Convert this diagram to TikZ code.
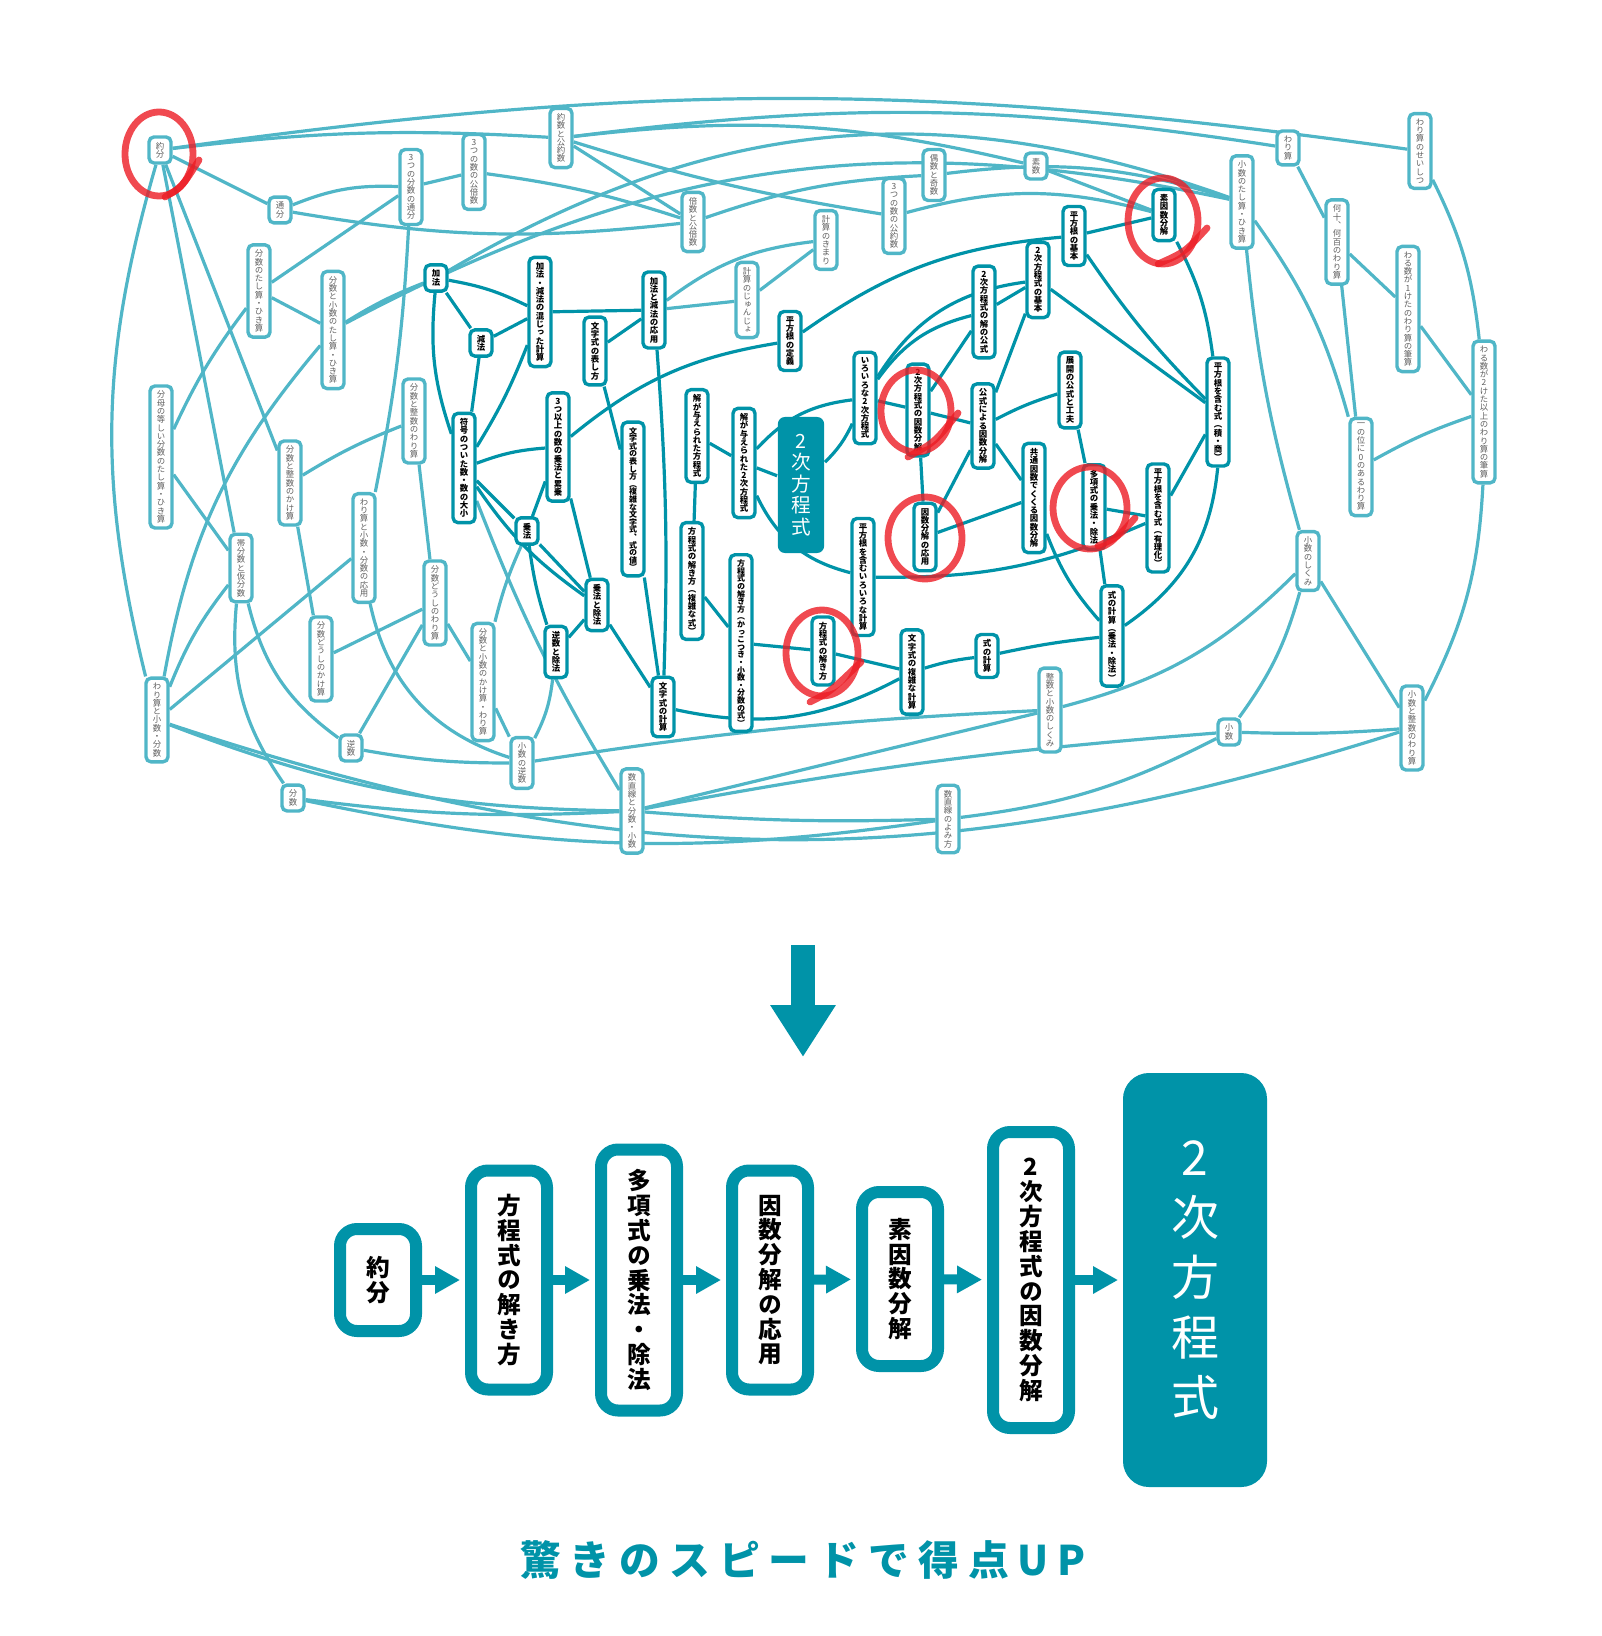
\documentclass[tikz,border=0pt]{standalone}
\usepackage{fontspec}
\setmainfont{Noto Sans CJK JP}
\newfontfamily\jpv[RawFeature=+vert]{Noto Sans CJK JP}
\usetikzlibrary{arrows.meta,backgrounds}
\definecolor{dteal}{RGB}{0,147,168}
\definecolor{lteal}{RGB}{80,182,199}
\definecolor{lgrey}{RGB}{95,95,95}
\definecolor{redpen}{RGB}{236,28,36}

% stack the characters of a label one under the other
\makeatletter
\def\vt@stop{\vt@stop}
\newcommand\vtxt[1]{\vbox{\lineskiplimit=-1000pt\vt@loop#1\vt@stop}}
\def\vt@loop#1{\ifx#1\vt@stop\else\hbox to 1em{\hss#1\hss}\expandafter\vt@loop\fi}
\makeatother

\begin{document}
\begin{tikzpicture}[x=0.25pt, y=-0.25pt,
    lbox/.style={draw=lteal, line width=0.85pt, rounded corners=1.25pt, fill=white, inner xsep=0.5pt, inner ysep=1.25pt, minimum width=5.5pt, text=lgrey, font=\jpv\fontsize{2.1}{2.075}\selectfont},
    dbox/.style={lbox, draw=dteal, text=black, font=\jpv\bfseries\fontsize{2.1}{2.075}\selectfont},
    tight/.style={font=\jpv\bfseries\fontsize{2}{1.9}\selectfont},
    mainbox/.style={fill=dteal, rounded corners=1.75pt, minimum width=11.5pt, minimum height=34pt, text=white, font=\jpv\fontsize{4.9}{5.4}\selectfont},
    lk/.style={draw=lteal, line width=0.8pt},
    dk/.style={draw=dteal, line width=0.8pt},
    fbox/.style={draw=dteal, line width=3pt, rounded corners=4.25pt, fill=white, minimum width=19pt, inner sep=0pt, text=black, font=\jpv\bfseries\fontsize{5.9}{6.2}\selectfont},
    goalbox/.style={fbox, fill=dteal, rounded corners=5pt, minimum width=33pt, minimum height=100.5pt, text=white, font=\jpv\fontsize{12}{15}\selectfont},
    farrow/.style={draw=dteal, line width=2.5pt, -{Triangle[length=6.25pt,width=6.5pt]}, shorten >=1.25pt},
    redmark/.style={draw=redpen, line width=1.7pt, line cap=round, opacity=0.8}]
\useasboundingbox (0,0) rectangle (1602,1636);

% light topics
\node[lbox] (yakubun) at (160,150) {\vtxt{約分}};
\node[lbox] (tsubun) at (280,210) {\vtxt{通分}};
\node[lbox] (sanbuntsu) at (411,187) {\vtxt{3つの分数の通分}};
\node[lbox] (sankobai) at (474,172) {\vtxt{3つの数の公倍数}};
\node[lbox] (yakusu) at (561,138) {\vtxt{約数と公約数}};
\node[lbox] (baisu) at (693,222) {\vtxt{倍数と公倍数}};
\node[lbox] (gusu) at (934,175) {\vtxt{偶数と奇数}};
\node[lbox] (sankoyaku) at (894,216) {\vtxt{3つの数の公約数}};
\node[lbox] (sosu) at (1036,166) {\vtxt{素数}};
\node[lbox] (keikimari) at (826,240) {\vtxt{計算のきまり}};
\node[lbox] (keijun) at (747,300) {\vtxt{計算のじゅんじょ}};
\node[lbox] (bunta) at (259,291) {\vtxt{分数のたし算・ひき算}};
\node[lbox] (bunshota) at (333,330) {\vtxt{分数と小数のたし算・ひき算}};
\node[lbox] (bunbo) at (161,457) {\vtxt{分母の等しい分数のたし算・ひき算}};
\node[lbox] (bunseiwari) at (414,421) {\vtxt{分数と整数のわり算}};
\node[lbox] (bunseikake) at (290,483) {\vtxt{分数と整数のかけ算}};
\node[lbox] (taibun) at (241,568) {\vtxt{帯分数と仮分数}};
\node[lbox] (warioyo) at (364,548) {\vtxt{わり算と小数・分数の応用}};
\node[lbox] (bundowari) at (435,603) {\vtxt{分数どうしのわり算}};
\node[lbox] (bundokake) at (321,659) {\vtxt{分数どうしのかけ算}};
\node[lbox] (warishobun) at (157,720) {\vtxt{わり算と小数・分数}};
\node[lbox] (gyakusu) at (351,748) {\vtxt{逆数}};
\node[lbox] (bunsu) at (293,798) {\vtxt{分数}};
\node[lbox] (bunshokake) at (483,682) {\vtxt{分数と小数のかけ算・わり算}};
\node[lbox] (shogyaku) at (522,763) {\vtxt{小数の逆数}};
\node[lbox] (suchokubun) at (632,811) {\vtxt{数直線と分数・小数}};
\node[lbox] (suchokuyomi) at (948,819) {\vtxt{数直線のよみ方}};
\node[lbox] (seishoshikumi) at (1050,710) {\vtxt{整数と小数のしくみ}};
\node[lbox] (shosu) at (1229,732) {\vtxt{小数}};
\node[lbox] (shoseiwari) at (1412,728) {\vtxt{小数と整数のわり算}};
\node[lbox] (shoshikumi) at (1308,561) {\vtxt{小数のしくみ}};
\node[lbox] (ichinokurai) at (1361,467) {\vtxt{一の位に0のあるわり算}};
\node[lbox] (warusu1) at (1408,309) {\vtxt{わる数が1けたのわり算の筆算}};
\node[lbox] (warusu2) at (1484,412) {\vtxt{わる数が2けた以上のわり算の筆算}};
\node[lbox] (nanju) at (1337,242) {\vtxt{何十、何百のわり算}};
\node[lbox] (warizan) at (1288,148) {\vtxt{わり算}};
\node[lbox] (warisei) at (1420,151) {\vtxt{わり算のせいしつ}};
\node[lbox] (shota) at (1242,202) {\vtxt{小数のたし算・ひき算}};

% dark topics
\node[dbox] (kaho) at (436,278) {\vtxt{加法}};
\node[dbox] (genpo) at (481,343) {\vtxt{減法}};
\node[dbox] (kagenmaji) at (540,312) {\vtxt{加法・減法の混じった計算}};
\node[dbox] (fugo) at (464,468) {\vtxt{符号のついた数・数の大小}};
\node[dbox] (kagenoyo) at (654,310) {\vtxt{加法と減法の応用}};
\node[dbox] (mojiarawa) at (595,351) {\vtxt{文字式の表し方}};
\node[dbox, tight] (mojifuku) at (633,499) {\vtxt{文字式の表し方（複雑な文字式、式の値）}};
\node[dbox] (sanijo) at (558,447) {\vtxt{3つ以上の数の乗法と累乗}};
\node[dbox] (joho) at (527,531) {\vtxt{乗法}};
\node[dbox] (johojoho) at (597,605) {\vtxt{乗法と除法}};
\node[dbox] (gyakujo) at (556,652) {\vtxt{逆数と除法}};
\node[dbox] (mojikei) at (663,707) {\vtxt{文字式の計算}};
\node[dbox] (kaihoteishiki) at (697,436) {\vtxt{解が与えられた方程式}};
\node[dbox] (kai2ji) at (744,463) {\vtxt{解が与えられた2次方程式}};
\node[dbox] (hokifuku) at (692,581) {\vtxt{方程式の解き方（複雑な式）}};
\node[dbox, tight] (hokikakko) at (741,643) {\vtxt{方程式の解き方（かっこつき・小数・分数の式）}};
\node[dbox] (hoki) at (823,651) {\vtxt{方程式の解き方}};
\node[dbox] (heiiroiro) at (863,577) {\vtxt{平方根を含むいろいろな計算}};
\node[dbox] (mojifukukei) at (912,672) {\vtxt{文字式の複雑な計算}};
\node[dbox] (shikikei) at (987,656) {\vtxt{式の計算}};
\node[dbox] (shikijojo) at (1112,636) {\vtxt{式の計算（乗法・除法）}};
\node[dbox] (takoshiki) at (1094,507) {\vtxt{多項式の乗法・除法}};
\node[dbox] (yuri) at (1158,518) {\vtxt{平方根を含む式（有理化）}};
\node[dbox] (sekisho) at (1218,412) {\vtxt{平方根を含む式（積・商）}};
\node[dbox] (kyotsu) at (1034,498) {\vtxt{共通因数でくくる因数分解}};
\node[dbox] (inoyo) at (925,537) {\vtxt{因数分解の応用}};
\node[dbox] (koshiki) at (983,426) {\vtxt{公式による因数分解}};
\node[dbox] (tenkai) at (1070,390) {\vtxt{展開の公式と工夫}};
\node[dbox] (niinsu) at (918,410) {\vtxt{2次方程式の因数分解}};
\node[dbox] (iroiro) at (865,398) {\vtxt{いろいろな2次方程式}};
\node[dbox] (kainokoshiki) at (984,312) {\vtxt{2次方程式の解の公式}};
\node[dbox] (nikihon) at (1038,280) {\vtxt{2次方程式の基本}};
\node[dbox] (heikihon) at (1074,236) {\vtxt{平方根の基本}};
\node[dbox] (heitei) at (790,341) {\vtxt{平方根の定義}};
\node[dbox] (soinsu) at (1164,215) {\vtxt{素因数分解}};
\node[mainbox] (main) at (801,485) {\vtxt{2次方程式}};

% links
\begin{scope}[on background layer]
\foreach \a/\b/\c in {yakubun/warisei/8, yakubun/yakusu/5, yakubun/tsubun/0, yakubun/warishobun/-15,
    yakubun/taibun/0, yakubun/bunseikake/0, tsubun/sanbuntsu/12, sanbuntsu/sankobai/0, tsubun/baisu/-8,
    sankobai/baisu/5, sanbuntsu/bunta/0, sanbuntsu/warioyo/4, bunta/bunshota/0, bunta/bunbo/-6,
    bunshota/kaho/5, bunshota/shota/20, bunshota/warishobun/-15, kaho/shota/25, gusu/shota/12,
    yakusu/warizan/8, yakusu/baisu/0, yakusu/sankoyaku/-4, yakusu/sosu/10, sosu/soinsu/0,
    sankoyaku/soinsu/15, baisu/gusu/8, keijun/keikimari/0, kagenoyo/keijun/0, kagenoyo/keikimari/15,
    bunseiwari/bunseikake/-5, bunseiwari/bundowari/0, bunbo/taibun/0, taibun/warishobun/-8,
    taibun/bunsu/-20, taibun/gyakusu/-20, bunseikake/bundokake/0, warioyo/warishobun/0,
    warioyo/shogyaku/-30, bundowari/bundokake/0, bundowari/gyakusu/0, bundowari/bunshokake/0,
    fugo/suchokubun/-5, bunshokake/joho/5, bunshokake/shogyaku/0, shogyaku/gyakusu/5,
    shogyaku/gyakujo/-10, shogyaku/seishoshikumi/3, warishobun/suchokubun/-10,
    warishobun/shoseiwari/-18, bunsu/suchokubun/-5, bunsu/suchokuyomi/-10, suchokubun/suchokuyomi/-3,
    suchokubun/seishoshikumi/0, suchokubun/shosu/3, suchokuyomi/shosu/-10, shosu/shoshikumi/-10,
    shosu/shoseiwari/-3, shoshikumi/shoseiwari/0, shoshikumi/seishoshikumi/15, shota/shoshikumi/-5,
    shota/ichinokurai/10, nanju/ichinokurai/0, warizan/nanju/0, nanju/warusu1/0, warusu1/warusu2/0,
    ichinokurai/warusu2/5, warisei/warusu2/10, warusu2/shoseiwari/12}
  \draw[lk] (\a) to[bend left=\c] (\b);
\foreach \a/\b/\c in {kaho/genpo/0, kaho/kagenmaji/8, kaho/fugo/-12, genpo/kagenmaji/0, genpo/fugo/0,
    kagenmaji/fugo/5, kagenmaji/kagenoyo/0, kagenoyo/mojiarawa/0, kagenoyo/mojikei/3,
    mojiarawa/mojifuku/0, fugo/sanijo/8, fugo/joho/0, fugo/johojoho/-10, sanijo/joho/0,
    sanijo/heitei/15, sanijo/johojoho/0, joho/johojoho/0, joho/gyakujo/-5, gyakujo/johojoho/0,
    johojoho/mojikei/0, mojifuku/mojikei/0, mojikei/mojifukukei/-20, kaihoteishiki/hokifuku/0,
    kaihoteishiki/kai2ji/0, hokifuku/hokikakko/0, hokikakko/hoki/0, hoki/mojifukukei/0,
    mojifukukei/shikikei/5, shikikei/shikijojo/3, shikijojo/takoshiki/0, shikijojo/kyotsu/10,
    shikijojo/sekisho/-25, takoshiki/yuri/0, takoshiki/tenkai/0, yuri/sekisho/0, yuri/heiiroiro/12,
    kai2ji/heiiroiro/-25, kai2ji/main/0, main/iroiro/-10, kai2ji/iroiro/20, iroiro/niinsu/0,
    iroiro/nikihon/25, iroiro/kainokoshiki/20, niinsu/kainokoshiki/0, niinsu/koshiki/0,
    niinsu/inoyo/0, kainokoshiki/nikihon/0, nikihon/koshiki/0, nikihon/sekisho/0,
    heitei/heikihon/15, heikihon/soinsu/0, heikihon/sekisho/-5, soinsu/sekisho/10,
    koshiki/tenkai/5, koshiki/inoyo/0, koshiki/kyotsu/0, inoyo/kyotsu/0}
  \draw[dk] (\a) to[bend left=\c] (\b);
\end{scope}

% red marks
\draw[redmark] (159,154) ellipse [x radius=8.5pt, y radius=10.5pt];
\draw[redmark] (165,197) .. controls (182,187) .. (199,160);
\draw[redmark] (1163,221) ellipse [x radius=8.75pt, y radius=10.75pt];
\draw[redmark] (1158,264) .. controls (1185,252) .. (1207,228);
\draw[redmark] (916,411) ellipse [x radius=8.75pt, y radius=10.25pt];
\draw[redmark] (908,457) .. controls (935,442) .. (958,413);
\draw[redmark] (925,538) ellipse [x radius=9.25pt, y radius=10.25pt];
\draw[redmark] (1090,508) ellipse [x radius=9.25pt, y radius=10.25pt];
\draw[redmark] (1098,546) .. controls (1118,537) .. (1135,518);
\draw[redmark] (822,653) ellipse [x radius=9pt, y radius=10.75pt];
\draw[redmark] (810,702) .. controls (830,692) .. (861,662);

% down arrow
\coordinate (dtop) at (803,945);
\coordinate (dbot) at (803,1057);
\draw[draw=dteal, line width=6pt, -{Triangle[length=13pt,width=15.5pt]}] (dtop) -- (dbot);

% shortest route
\node[fbox, minimum height=25.5pt] (f1) at (378,1280) {\vtxt{約分}};
\node[fbox, minimum height=54.75pt] (f2) at (509,1280) {\vtxt{方程式の解き方}};
\node[fbox, minimum height=65.25pt] (f3) at (639,1280) {\vtxt{多項式の乗法・除法}};
\node[fbox, minimum height=54.75pt] (f4) at (770,1280) {\vtxt{因数分解の応用}};
\node[fbox, minimum height=43.5pt] (f5) at (900,1279) {\vtxt{素因数分解}};
\node[fbox, minimum height=74pt] (f6) at (1031,1280) {\vtxt{2次方程式の因数分解}};
\node[goalbox] (goal) at (1195,1280) {\vtxt{2次方程式}};
\foreach \a/\b in {f1/f2, f2/f3, f3/f4, f4/f5, f5/f6, f6/goal}
  \draw[farrow] (\a) -- (\b);

\node[text=dteal, font=\bfseries\fontsize{10.2}{10.2}\selectfont\addfontfeatures{LetterSpace=22}] (slogan) at (803,1560) {驚きのスピードで得点UP};
\end{tikzpicture}
\end{document}
